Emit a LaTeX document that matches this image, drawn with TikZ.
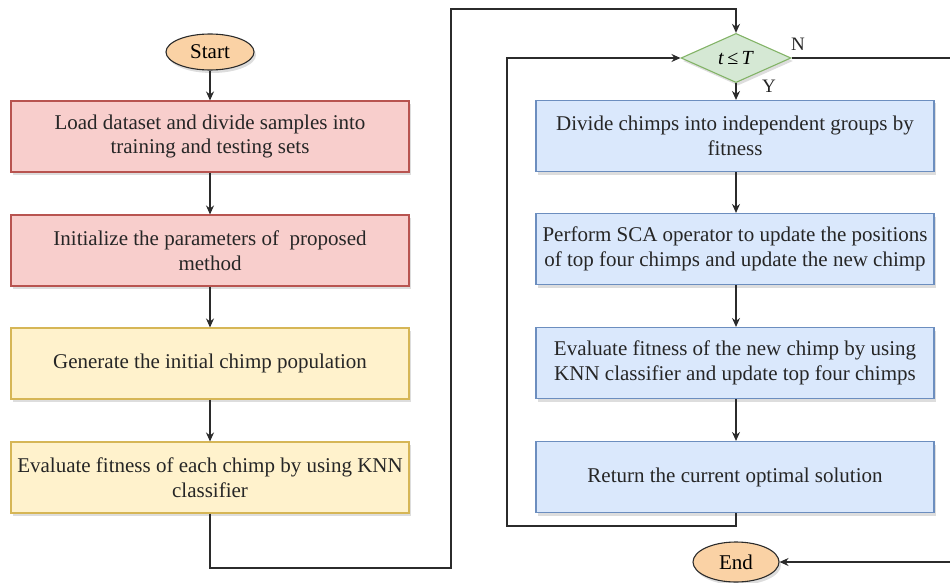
\documentclass[tikz,border=0pt]{standalone}
\usepackage{fontspec}
\setmainfont{Liberation Serif}
\usetikzlibrary{shapes.geometric,arrows.meta,shadows}
\definecolor{redf}{HTML}{F8CECC}\definecolor{redd}{HTML}{B85450}
\definecolor{yelf}{HTML}{FFF2CC}\definecolor{yeld}{HTML}{D6B656}
\definecolor{bluf}{HTML}{DAE8FC}\definecolor{blud}{HTML}{6C8EBF}
\definecolor{grnf}{HTML}{D5E8D4}\definecolor{grnd}{HTML}{82B366}
\definecolor{orgf}{HTML}{FAD2A5}\definecolor{lin}{HTML}{2B2B2B}
\begin{document}
\begin{tikzpicture}[x=1pt,y=-1pt,
  shad/.style={drop shadow={shadow xshift=2pt,shadow yshift=-3pt,opacity=0.22,fill=black!60}},
  box/.style={rectangle,draw,line width=1.1pt,minimum width=398pt,minimum height=71pt,align=center,
    font=\fontsize{21}{24.5}\selectfont,inner sep=2pt,shad,text=black!85},
  redbox/.style={box,fill=redf,draw=redd},
  yelbox/.style={box,fill=yelf,draw=yeld},
  blubox/.style={box,fill=bluf,draw=blud},
  term/.style={ellipse,draw=lin,line width=1.1pt,fill=orgf,inner sep=0pt,font=\fontsize{21}{24}\selectfont,shad},
  conn/.style={draw=lin,line width=1.3pt},
  arr/.style={conn,-{Stealth[length=9pt,width=8pt]}},
  lab/.style={font=\fontsize{19}{22}\selectfont,text=black!85}]
\useasboundingbox (0,0) rectangle (950,583);
\node[term,minimum width=88pt,minimum height=36pt] (start) at (210,52) {Start};
\node[redbox] (b1) at (210,136.5) {Load dataset and divide samples into\\training and testing sets};
\node[redbox] (b2) at (210,250.5) {Initialize the parameters of\ \ proposed\\method};
\node[yelbox] (b3) at (210,363.5) {Generate the initial chimp population};
\node[yelbox] (b4) at (210,477.5) {Evaluate fitness of each chimp by using KNN\\classifier};
\node[diamond,draw=grnd,fill=grnf,line width=1.1pt,minimum width=110pt,minimum height=42pt,inner sep=0pt,shad,font=\fontsize{20}{22}\selectfont] (dia) at (736,58) {\textit{t}\,≤\,\textit{T}};
\node[blubox] (r1) at (735,136) {Divide chimps into independent groups by\\fitness};
\node[blubox] (r2) at (735,249) {Perform SCA operator to update the positions\\of top four chimps and update the new chimp};
\node[blubox] (r3) at (735,363) {Evaluate fitness of the new chimp by using\\KNN classifier and update top four chimps};
\node[blubox] (r4) at (735,477) {Return the current optimal solution};
\node[term,minimum width=86pt,minimum height=40pt] (end) at (736,562) {End};
\node[lab] (nl) at (798,44) {N};
\node[lab] (yl) at (769,86) {Y};
\coordinate (p1) at (210,568);
\coordinate (p2) at (451,568);
\coordinate (p3) at (451,9);
\coordinate (p4) at (736,9);
\coordinate (q1) at (736,526);
\coordinate (q2) at (507,526);
\coordinate (q3) at (507,58);
\coordinate (n1) at (953,58);
\coordinate (n2) at (953,562);
\draw[arr] (start) -- (b1);
\draw[arr] (b1) -- (b2);
\draw[arr] (b2) -- (b3);
\draw[arr] (b3) -- (b4);
\draw[arr] (b4.south) -- (p1) -- (p2) -- (p3) -- (p4) -- (dia.north);
\draw[arr] (dia.south) -- (r1.north -| dia.south);
\draw[arr] (r1.south -| dia.south) -- (r2.north -| dia.south);
\draw[arr] (r2.south -| dia.south) -- (r3.north -| dia.south);
\draw[arr] (r3.south -| dia.south) -- (r4.north -| dia.south);
\draw[arr] (r4.south -| dia.south) -- (q1) -- (q2) -- (q3) -- (dia.west);
\draw[arr] (dia.east) -- (n1) -- (n2) -- (end.east);
\end{tikzpicture}
\end{document}
